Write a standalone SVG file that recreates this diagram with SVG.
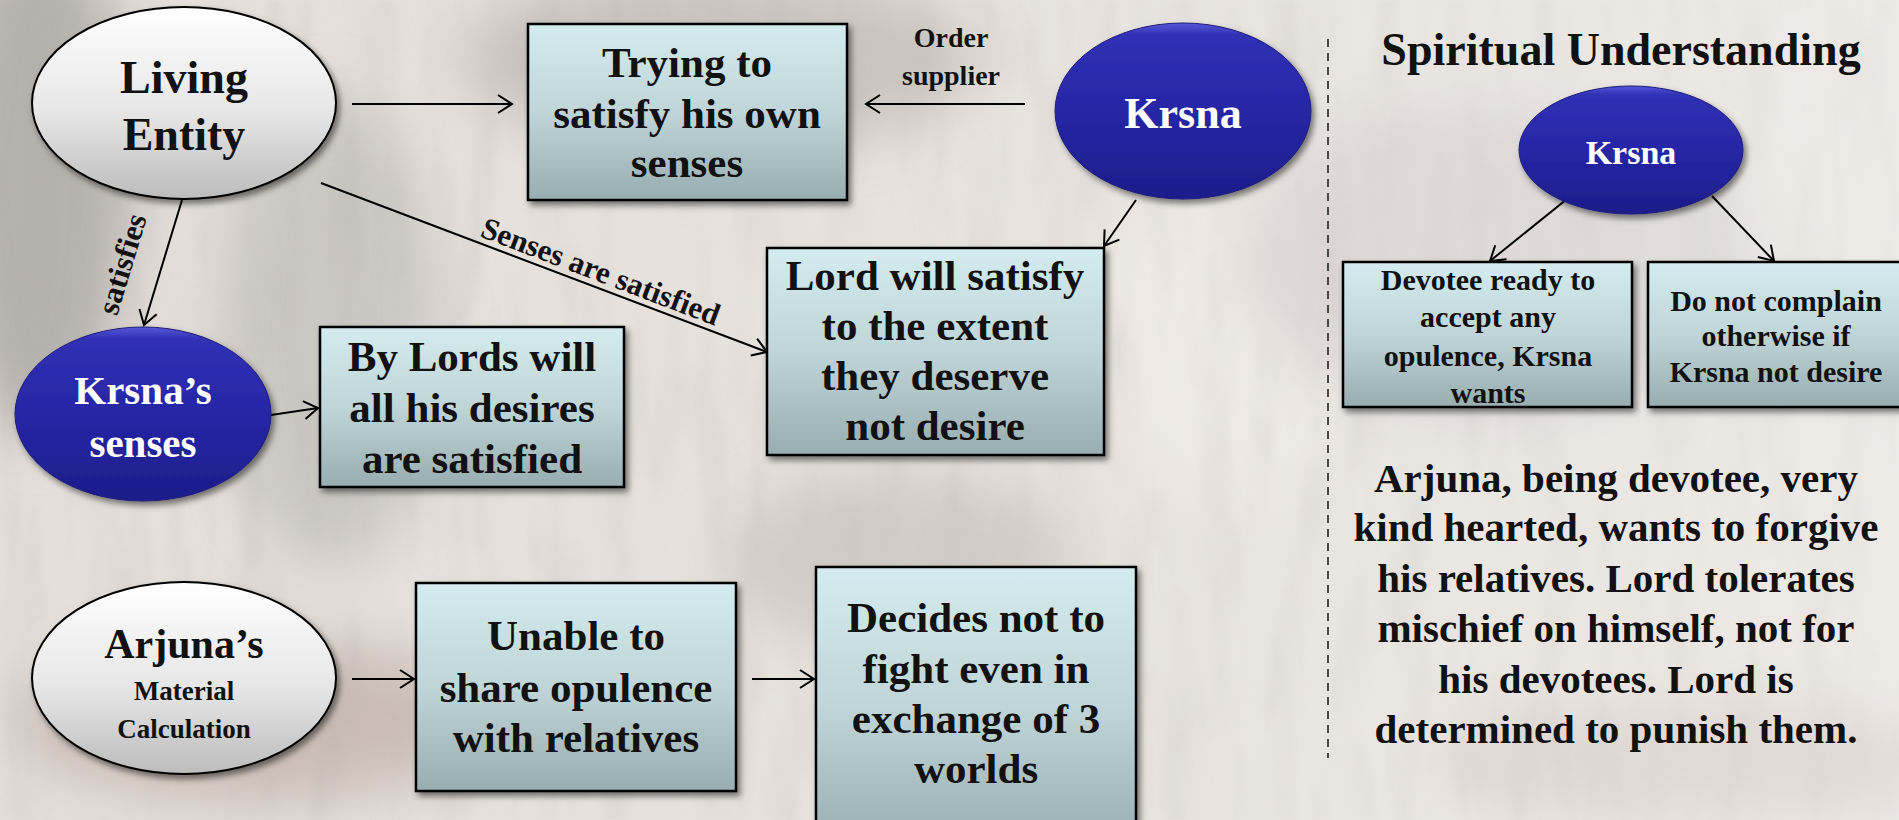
<svg xmlns="http://www.w3.org/2000/svg" width="1899" height="820" viewBox="0 0 1899 820">
  <defs>
    <style>
      text { font-family: "Liberation Serif", "Times New Roman", serif; font-weight: bold; fill: #111; }
      .box { fill: url(#boxFill); stroke: #000; stroke-width: 2.5; filter: url(#shadow); }
      .grey { fill: url(#greyFill); stroke: #000; stroke-width: 2; filter: url(#shadow); }
      .blue { fill: url(#blueFill); stroke: #1c1c7a; stroke-width: 1; filter: url(#shadow); }
      .bt { font-size: 43px; text-anchor: middle; }
      .st { font-size: 30px; text-anchor: middle; }
      .wt { fill: #fff; text-anchor: middle; }
      .lbl { font-size: 31px; text-anchor: middle; }
      .edge { stroke: #000; stroke-width: 2; fill: none; marker-end: url(#arrow); }
      .para { font-size: 41px; text-anchor: middle; }
    </style>
    <linearGradient id="boxFill" x1="0" y1="0" x2="0" y2="1">
      <stop offset="0" stop-color="#d4ecef"/>
      <stop offset="0.5" stop-color="#bfd5d8"/>
      <stop offset="1" stop-color="#98adaf"/>
    </linearGradient>
    <linearGradient id="greyFill" x1="0" y1="0" x2="0" y2="1">
      <stop offset="0" stop-color="#ffffff"/>
      <stop offset="0.55" stop-color="#e6e6e6"/>
      <stop offset="1" stop-color="#bcbcbc"/>
    </linearGradient>
    <linearGradient id="blueFill" x1="0" y1="0" x2="0" y2="1">
      <stop offset="0" stop-color="#5656d8"/>
      <stop offset="0.07" stop-color="#3030b4"/>
      <stop offset="0.5" stop-color="#2626a6"/>
      <stop offset="1" stop-color="#1d1d8a"/>
    </linearGradient>
    <linearGradient id="wash" x1="0" y1="0" x2="1" y2="0">
      <stop offset="0" stop-color="#ffffff" stop-opacity="0"/>
      <stop offset="0.55" stop-color="#ffffff" stop-opacity="0.12"/>
      <stop offset="1" stop-color="#ffffff" stop-opacity="0.35"/>
    </linearGradient>
    <filter id="shadow" x="-10%" y="-10%" width="125%" height="130%">
      <feDropShadow dx="3" dy="4" stdDeviation="3" flood-color="#000" flood-opacity="0.5"/>
    </filter>
    <filter id="soft" x="-50%" y="-50%" width="200%" height="200%">
      <feGaussianBlur stdDeviation="28"/>
    </filter>
    <filter id="streaks" x="0" y="0" width="100%" height="100%">
      <feTurbulence type="fractalNoise" baseFrequency="0.03 0.006" numOctaves="3" seed="7"/>
      <feColorMatrix type="matrix" values="0 0 0 0 0.42  0 0 0 0 0.40  0 0 0 0 0.38  1.0 0 0 0 -0.45"/>
      <feGaussianBlur stdDeviation="2"/>
    </filter>
    <marker id="arrow" markerUnits="userSpaceOnUse" markerWidth="22" markerHeight="22" refX="17" refY="11" orient="auto">
      <path d="M3,2 L17,11 L3,20" fill="none" stroke="#000" stroke-width="2"/>
    </marker>
  </defs>

  <!-- faded painted backdrop -->
  <g id="backdrop">
    <rect width="1899" height="820" fill="#e4dfda"/>
    <g filter="url(#soft)" opacity="0.55">
      <ellipse cx="40" cy="180" rx="90" ry="260" fill="#8f8c88"/>
      <ellipse cx="330" cy="330" rx="110" ry="240" fill="#b3b0ab"/>
      <ellipse cx="720" cy="60" rx="260" ry="90" fill="#aaa49e"/>
      <ellipse cx="900" cy="560" rx="180" ry="90" fill="#bcb4ad"/>
      <ellipse cx="260" cy="720" rx="240" ry="80" fill="#b39b93"/>
      <ellipse cx="1230" cy="330" rx="120" ry="160" fill="#f1ece3"/>
      <ellipse cx="1500" cy="260" rx="260" ry="160" fill="#c9c2c4"/>
      <ellipse cx="1700" cy="760" rx="260" ry="60" fill="#c8b9b6"/>
    </g>
    <rect width="1899" height="820" filter="url(#streaks)" opacity="0.5"/>
    <rect width="1899" height="820" fill="url(#wash)"/>
  </g>

  <!-- divider between the two halves -->
  <line x1="1328" y1="39" x2="1328" y2="758" stroke="#222" stroke-width="1.6" stroke-dasharray="8 6"/>

  <!-- connectors -->
  <g id="connectors">
    <line class="edge" x1="352" y1="104" x2="512" y2="104"/>
    <line class="edge" x1="1025" y1="104" x2="866" y2="104"/>
    <line class="edge" x1="321" y1="183" x2="767" y2="352"/>
    <line class="edge" x1="182" y1="200" x2="144" y2="325"/>
    <line class="edge" x1="271" y1="415" x2="318" y2="408"/>
    <line class="edge" x1="1136" y1="200" x2="1104" y2="246"/>
    <line class="edge" x1="352" y1="679" x2="414" y2="679"/>
    <line class="edge" x1="752" y1="679" x2="814" y2="679"/>
    <line class="edge" x1="1567" y1="199" x2="1490" y2="261"/>
    <line class="edge" x1="1712" y1="196" x2="1774" y2="261"/>
    <text class="lbl" style="font-size:28px" x="951" y="47">Order</text>
    <text class="lbl" style="font-size:28px" x="951" y="85">supplier</text>
    <text class="lbl" transform="translate(597,281) rotate(20.75)">Senses are satisfied</text>
    <text class="lbl" transform="translate(132,267) rotate(-73)">satisfies</text>
  </g>

  <!-- left half: material view -->
  <g id="living-entity">
    <ellipse class="grey" cx="184" cy="103" rx="152" ry="96"/>
    <text class="bt" style="font-size:46px" x="184" y="93">Living</text>
    <text class="bt" style="font-size:46px" x="184" y="150">Entity</text>
  </g>

  <g id="trying">
    <rect class="box" x="528" y="24" width="319" height="176"/>
    <text class="bt" x="687" y="77">Trying to</text>
    <text class="bt" x="687" y="128">satisfy his own</text>
    <text class="bt" x="687" y="177">senses</text>
  </g>

  <g id="krsna-top">
    <ellipse class="blue" cx="1183" cy="111" rx="128" ry="88"/>
    <text class="wt" style="font-size:44px" x="1183" y="128">Krsna</text>
  </g>

  <g id="krsnas-senses">
    <ellipse class="blue" cx="143" cy="414" rx="128" ry="87"/>
    <text class="wt" style="font-size:41px" x="143" y="404">Krsna’s</text>
    <text class="wt" style="font-size:41px" x="143" y="457">senses</text>
  </g>

  <g id="by-lords-will">
    <rect class="box" x="320" y="327" width="304" height="160"/>
    <text class="bt" x="472" y="371">By Lords will</text>
    <text class="bt" x="472" y="422">all his desires</text>
    <text class="bt" x="472" y="473">are satisfied</text>
  </g>

  <g id="lord-will-satisfy">
    <rect class="box" x="767" y="248" width="337" height="207"/>
    <text class="bt" x="935" y="290">Lord will satisfy</text>
    <text class="bt" x="935" y="340">to the extent</text>
    <text class="bt" x="935" y="390">they deserve</text>
    <text class="bt" x="935" y="440">not desire</text>
  </g>

  <g id="arjunas-calculation">
    <ellipse class="grey" cx="184" cy="678" rx="152" ry="96"/>
    <text class="bt" style="font-size:42px" x="184" y="658">Arjuna’s</text>
    <text class="bt" style="font-size:27px" x="184" y="700">Material</text>
    <text class="bt" style="font-size:27px" x="184" y="738">Calculation</text>
  </g>

  <g id="unable-to-share">
    <rect class="box" x="416" y="583" width="320" height="208"/>
    <text class="bt" x="576" y="650">Unable to</text>
    <text class="bt" x="576" y="702">share opulence</text>
    <text class="bt" x="576" y="752">with relatives</text>
  </g>

  <g id="decides-not-to-fight">
    <rect class="box" x="816" y="567" width="320" height="280"/>
    <text class="bt" x="976" y="632">Decides not to</text>
    <text class="bt" x="976" y="683">fight even in</text>
    <text class="bt" x="976" y="733">exchange of 3</text>
    <text class="bt" x="976" y="783">worlds</text>
  </g>

  <!-- right half: spiritual view -->
  <g id="spiritual-heading">
    <text style="font-size:46px" text-anchor="middle" x="1621" y="65">Spiritual Understanding</text>
  </g>

  <g id="krsna-right">
    <ellipse class="blue" cx="1631" cy="150" rx="112" ry="64"/>
    <text class="wt" style="font-size:34px" x="1631" y="164">Krsna</text>
  </g>

  <g id="devotee-ready">
    <rect class="box" x="1343" y="262" width="289" height="145"/>
    <text class="st" x="1488" y="290">Devotee ready to</text>
    <text class="st" x="1488" y="327">accept any</text>
    <text class="st" x="1488" y="366">opulence, Krsna</text>
    <text class="st" x="1488" y="403">wants</text>
  </g>

  <g id="do-not-complain">
    <rect class="box" x="1648" y="262" width="260" height="145"/>
    <text class="st" x="1776" y="311">Do not complain</text>
    <text class="st" x="1776" y="346">otherwise if</text>
    <text class="st" x="1776" y="382">Krsna not desire</text>
  </g>

  <g id="arjuna-note">
    <text class="para" x="1616" y="492">Arjuna, being devotee, very</text>
    <text class="para" x="1616" y="541">kind hearted, wants to forgive</text>
    <text class="para" x="1616" y="592">his relatives. Lord tolerates</text>
    <text class="para" x="1616" y="642">mischief on himself, not for</text>
    <text class="para" x="1616" y="693">his devotees. Lord is</text>
    <text class="para" x="1616" y="743">determined to punish them.</text>
  </g>
</svg>
